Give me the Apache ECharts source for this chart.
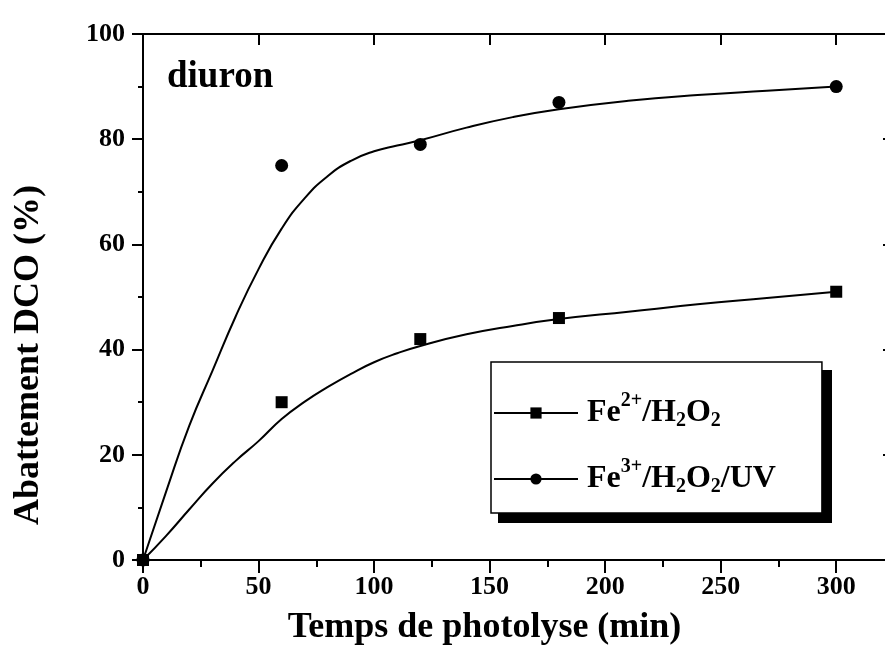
<!DOCTYPE html>
<html>
<head>
<meta charset="utf-8">
<script src="https://cdn.jsdelivr.net/npm/echarts@6/dist/echarts.min.js"></script>
<style>
  html, body { margin: 0; padding: 0; background: #fff; }
  #chart { width: 885px; height: 648px; }
</style>
</head>
<body>
<div id="chart"></div>
<script>
// measured points
const timesMeasured = [0, 60, 120, 180, 300];
const fe2Measured = [0, 30, 42, 46, 51];
const fe3Measured = [0, 75, 79, 87, 90];

// fitted curves
const fitTimes = [0, 10, 20, 30, 40, 50, 60, 70, 80, 90, 100, 110, 120, 140, 160, 180, 210, 240, 270, 300];
const fe2FitValues = [0, 4.6, 9.6, 14.5, 18.8, 22.6, 26.8, 30.1, 32.9, 35.4, 37.6, 39.3, 40.7, 42.9, 44.5, 45.8, 47.2, 48.6, 49.8, 51];
const fe3FitValues = [0, 13, 25.5, 35.9, 46.2, 55.3, 63, 68.8, 73, 75.9, 77.7, 78.8, 79.8, 82.2, 84.2, 85.7, 87.3, 88.4, 89.2, 90];

const fe2Name = 'Fe2+/H2O2';
const fe3Name = 'Fe3+/H2O2/UV';

const pairs = (xs, ys) => xs.map((x, i) => [x, ys[i]]);

const font = 'Liberation Serif';
const chart = echarts.init(document.getElementById('chart'));

const xBase = { type: 'value', min: 0, max: 325, splitLine: { show: false } };
const axisLine = { show: true, onZero: false, lineStyle: { color: '#000', width: 2 } };
const tickStyle = { color: '#000', width: 2 };

const option = {
    animation: false,
    backgroundColor: '#fff',
    grid: { left: 143, width: 751, top: 34, bottom: 88, outerBoundsMode: 'none', containLabel: false },
    xAxis: [
        {
            ...xBase, position: 'bottom', interval: 50,
            axisLine,
            axisTick: { inside: false, length: 13, lineStyle: tickStyle },
            axisLabel: {
                margin: 14, color: '#000', fontFamily: font, fontWeight: 'bold', fontSize: 26,
                formatter: (v) => (v % 50 === 0 ? String(v) : '')
            },
            name: 'Temps de photolyse (min)',
            nameLocation: 'middle',
            nameGap: 50,
            nameTextStyle: { color: '#000', fontFamily: font, fontWeight: 'bold', fontSize: 36, padding: [0, 68, 0, 0] }
        },
        {
            ...xBase, position: 'bottom', interval: 25,
            axisLine: { show: false },
            axisTick: { inside: false, length: 7, lineStyle: tickStyle },
            axisLabel: { show: false }
        },
        {
            ...xBase, position: 'top', interval: 50,
            axisLine,
            axisTick: { inside: true, length: 11, lineStyle: tickStyle },
            axisLabel: { show: false }
        },
        {
            ...xBase, position: 'top', interval: 25,
            axisLine: { show: false },
            axisTick: { inside: true, length: 6, lineStyle: tickStyle },
            axisLabel: { show: false }
        }
    ],
    yAxis: [
        {
            type: 'value', min: 0, max: 100, interval: 20, position: 'left',
            splitLine: { show: false },
            axisLine,
            axisTick: { inside: false, length: 11, lineStyle: tickStyle },
            minorTick: { show: true, splitNumber: 2, length: 5, lineStyle: tickStyle },
            axisLabel: { margin: 18, color: '#000', fontFamily: font, fontWeight: 'bold', fontSize: 26 },
            name: 'Abattement DCO (%)',
            nameLocation: 'middle',
            nameGap: 96,
            nameTextStyle: { color: '#000', fontFamily: font, fontWeight: 'bold', fontSize: 36, padding: [0, 116, 0, 0] }
        },
        {
            type: 'value', min: 0, max: 100, interval: 20, position: 'right',
            splitLine: { show: false },
            axisLine,
            axisTick: { inside: true, length: 11, lineStyle: tickStyle },
            minorTick: { show: true, splitNumber: 2, length: 5, lineStyle: tickStyle },
            axisLabel: { show: false }
        }
    ],
    legend: {
        data: [fe2Name, fe3Name],
        orient: 'vertical',
        left: 491,
        top: 362,
        padding: [29, 46, 12, 2],
        itemGap: 22,
        itemWidth: 84,
        itemHeight: 14,
        backgroundColor: '#fff',
        borderColor: '#000',
        borderWidth: 1.5,
        selectedMode: false,
        textStyle: {
            color: '#000', fontFamily: font, fontWeight: 'bold', fontSize: 32,
            padding: [0, 0, 0, 4],
            rich: {
                b: { fontFamily: font, fontWeight: 'bold', fontSize: 32, lineHeight: 40, color: '#000' },
                sup: { fontFamily: font, fontWeight: 'bold', fontSize: 20, lineHeight: 16, padding: [0, 0, 24, 0], color: '#000' },
                sub: { fontFamily: font, fontWeight: 'bold', fontSize: 20, lineHeight: 20, padding: [16, 0, 0, 0], color: '#000' }
            }
        },
        formatter: (name) => name === fe2Name
            ? '{b|Fe}{sup|2+}{b|/H}{sub|2}{b|O}{sub|2}'
            : '{b|Fe}{sup|3+}{b|/H}{sub|2}{b|O}{sub|2}{b|/UV}'
    },
    graphic: [
        {
            // drop shadow behind the legend box
            type: 'rect', z: 3, silent: true,
            shape: { x: 498, y: 370, width: 334, height: 153 },
            style: { fill: '#000' }
        },
        {
            type: 'text', left: 167, top: 59, z: 3,
            style: { text: 'diuron', fill: '#000', font: 'bold 37px "Liberation Serif"' }
        }
    ],
    series: [
        {
            name: fe2Name, type: 'line', smooth: 0.5, showSymbol: false, symbol: 'rect',
            symbolSize: 11, color: '#000',
            lineStyle: { color: '#000', width: 2 },
            data: pairs(fitTimes, fe2FitValues)
        },
        {
            name: fe3Name, type: 'line', smooth: 0.5, showSymbol: false, symbol: 'circle',
            symbolSize: 11, color: '#000',
            lineStyle: { color: '#000', width: 2 },
            data: pairs(fitTimes, fe3FitValues)
        },
        {
            name: 'fe3 points', type: 'scatter', symbol: 'circle', symbolSize: 13, clip: false,
            itemStyle: { color: '#000', opacity: 1 },
            data: pairs(timesMeasured, fe3Measured)
        },
        {
            name: 'fe2 points', type: 'scatter', symbol: 'rect', symbolSize: 12, clip: false,
            itemStyle: { color: '#000', opacity: 1 },
            data: pairs(timesMeasured, fe2Measured)
        }
    ]
};

chart.setOption(option);
</script>
</body>
</html>
